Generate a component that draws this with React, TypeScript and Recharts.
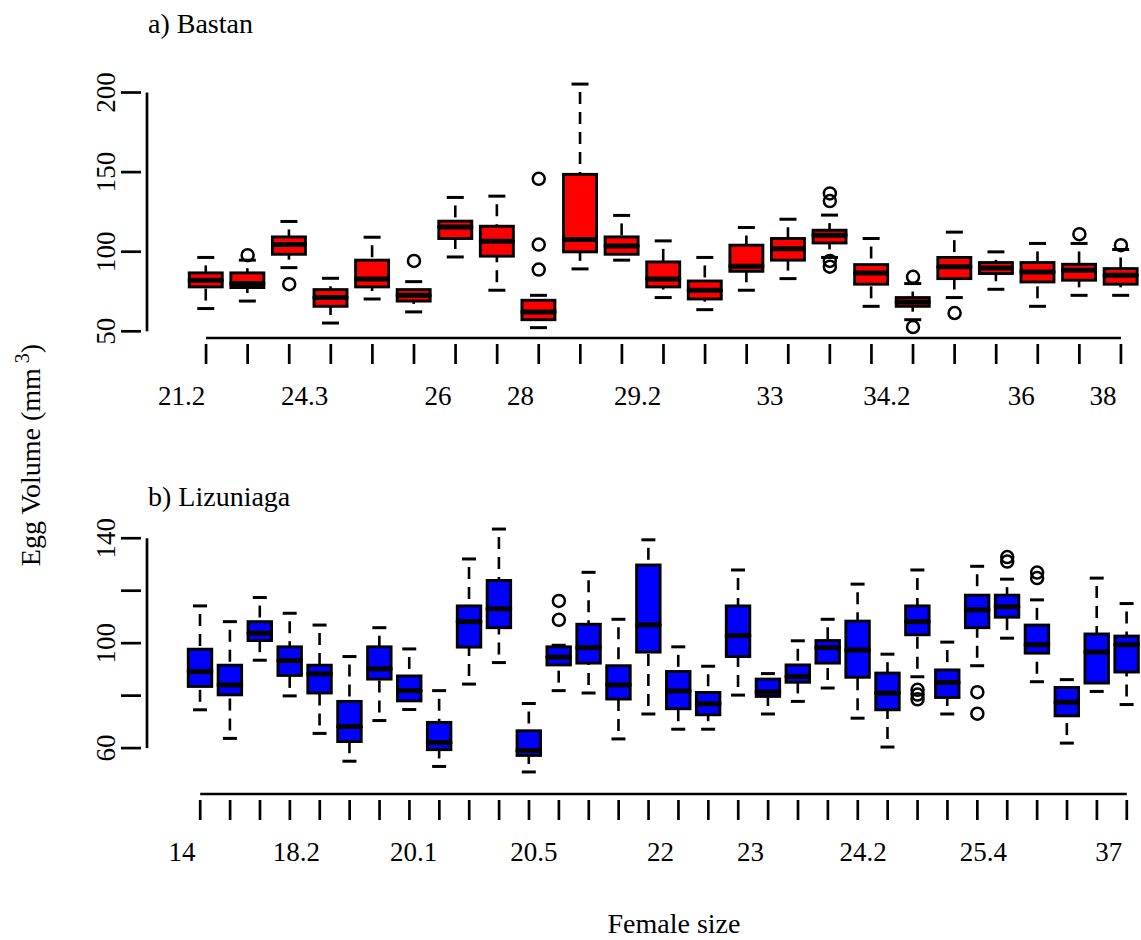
import { ComposedChart, Bar, Scatter, XAxis, YAxis, ReferenceLine } from 'recharts';

const FONT = '"Liberation Serif", "Times New Roman", serif';

// a) Bastan : five-number summaries per female (read off the figure)
const bastanLo = [64.3, 69, 90, 55.2, 70.3, 62.2, 96.7, 75.8, 52.3, 89.2, 94.7, 71.2, 63.6, 75.8, 83.1, 96.4, 65.7, 57.3, 71.2, 76.4, 65.7, 72.6, 72.6];
const bastanQ1 = [77.9, 77.5, 98.4, 65.7, 77.9, 69, 108.3, 97.2, 57.3, 99.9, 98.4, 77.9, 70.3, 87.7, 94.7, 105.5, 79.6, 65.7, 83.1, 86.3, 81, 82.1, 79.6];
const bastanMed = [82, 80, 104.5, 71.2, 82.9, 72.6, 115.6, 106.6, 62.2, 107.7, 103.6, 82.9, 75.8, 90.9, 101.8, 110.4, 86.7, 68.4, 90.5, 89.8, 87.3, 88.4, 85.2];
const bastanQ3 = [86.7, 86.7, 109.3, 76.2, 94.7, 76.2, 119.2, 116, 69.5, 148.6, 109.3, 93.6, 81.6, 104.1, 108.3, 113.5, 91.9, 71.2, 96.4, 93.2, 93.2, 92.1, 89.4];
const bastanHi = [96.4, 94.7, 119, 83.3, 109.1, 81.2, 134.1, 134.9, 72.6, 205.3, 122.8, 106.8, 96.4, 115.2, 120.4, 123, 108.3, 80, 112.3, 99.9, 105.2, 105.2, 101.4];
// outliers: [box number, value]
const bastanOut = [[2, 97.8], [3, 79.6], [6, 94.2], [9, 145.8], [9, 104.5], [9, 88.8], [16, 136.6], [16, 131.8], [16, 94.2], [16, 90.6], [18, 84.2], [18, 52.7], [19, 61.5], [22, 111], [23, 104.1]];
const bastanLabels = ['21.2', '24.3', '26', '28', '29.2', '33', '34.2', '36', '38'];
const bastanLabelAt = [0.41, 3.37, 6.58, 8.56, 11.38, 14.56, 17.37, 20.6, 22.57];
const bastanTicksY = [50, 100, 150, 200];
const bastanShownY = [50, 100, 150, 200];

// b) Lizuniaga
const lizLo = [74.6, 63.7, 93.5, 79.9, 65.6, 55, 70.5, 74.7, 53, 84.4, 92.6, 50.9, 81.9, 81, 63.5, 73, 67.2, 67.2, 80.2, 73, 77.8, 82.9, 71.4, 60.4, 87.2, 73, 91.4, 101.9, 85.3, 61.9, 81.6, 76.6];
const lizQ1 = [83.5, 80.3, 101, 87.7, 81, 62.5, 86.3, 78, 59.4, 98.5, 105.9, 57.2, 91.7, 92.4, 78.7, 96.6, 75, 72.7, 94.9, 79.7, 85.1, 92.4, 87, 74.6, 103.2, 79.3, 105.9, 109.9, 96.2, 72.3, 84.8, 89];
const lizMed = [89.2, 84.1, 103.8, 93.4, 88.3, 68.2, 90.2, 81.9, 62.1, 108.2, 113.1, 59.1, 94.7, 98.3, 84.1, 107, 81.8, 76.9, 102.9, 81.4, 87.3, 98.3, 97.4, 81, 108.2, 85, 112.7, 113.9, 99.4, 77.5, 96.6, 99.4];
const lizQ3 = [97.7, 91.6, 108.2, 98.6, 91.6, 77.8, 98.6, 87.5, 69.8, 114.2, 123.9, 66.6, 98.6, 107.2, 91.4, 129.8, 89.2, 81.2, 114.2, 86.3, 91.7, 101, 108.4, 88.6, 114.2, 89.8, 118.3, 118.3, 106.9, 83.1, 103.5, 102.7];
const lizHi = [114.2, 108.2, 117.4, 111.4, 106.9, 94.9, 105.9, 97.8, 81.9, 132.1, 143.5, 77, 99.2, 127, 109.1, 139.4, 98.6, 91.2, 127.9, 88.4, 100.9, 109.1, 122.5, 95.8, 127.9, 100.4, 129.3, 124.4, 116.5, 86.1, 124.8, 115.1];
const lizOut = [[13, 116.1], [13, 108.9], [25, 82.2], [25, 80.4], [25, 78.6], [27, 81.3], [27, 73.1], [28, 132.8], [28, 131.1], [29, 126.9], [29, 124.8]];
const lizLabels = ['14', '18.2', '20.1', '20.5', '22', '23', '24.2', '25.4', '37'];
const lizLabelAt = [0.39, 4.22, 8.14, 12.16, 16.4, 19.41, 23.18, 27.2, 31.4];
const lizTicksY = [60, 80, 100, 120, 140];
const lizShownY = [60, 100, 140];

function buildRows(lo: number[], q1: number[], med: number[], q3: number[], hi: number[]) {
  return lo.map((l, i) => ({
    pos: i + 1,
    base: l,
    lw: q1[i] - l,
    bl: med[i] - q1[i],
    bu: q3[i] - med[i],
    uw: hi[i] - q3[i],
  }));
}

interface PanelProps {
  rows: ReturnType<typeof buildRows>;
  outliers: number[][];
  fill: string;
  boxW: number;
  capW: number;
  xDomain: [number, number];
  yDomain: [number, number];
  yTicks: number[];
  yShown: number[];
  labels: string[];
  labelAt: number[];
  height: number;
  plotTop: number;
  axisH: number;
}

function BoxPanel(p: PanelProps) {
  const n = p.rows.length;
  const ticks = [...p.rows.map((r) => r.pos), ...p.labelAt].sort((a, b) => a - b);
  const labelOf = new Map(p.labelAt.map((v, i) => [v, p.labels[i]]));
  const yMin = p.yDomain[0];

  const xTick = (t: any) => {
    const v = t.payload.value;
    if (Number.isInteger(v)) {
      return <line x1={t.x} x2={t.x} y1={t.y} y2={t.y + 20} stroke="#000" strokeWidth={2.7} />;
    }
    return (
      <text x={t.x} y={t.y + 61} textAnchor="middle" fontFamily={FONT} fontSize={27} fill="#000">
        {labelOf.get(v)}
      </text>
    );
  };

  const yTick = (t: any) => {
    const v = t.payload.value;
    return (
      <g>
        <line x1={t.x - 20} x2={t.x} y1={t.y} y2={t.y} stroke="#000" strokeWidth={2.7} />
        {p.yShown.includes(v) && (
          <text x={t.x - 26} y={t.y} transform={`rotate(-90, ${t.x - 26}, ${t.y})`} textAnchor="middle" fontFamily={FONT} fontSize={27} fill="#000">
            {v}
          </text>
        )}
      </g>
    );
  };

  const lowerWhisker = (s: any) => {
    const cx = s.x + s.width / 2;
    const yb = s.y + s.height;
    return (
      <g>
        <line x1={cx} x2={cx} y1={yb} y2={s.y} stroke="#000" strokeWidth={2.6} strokeDasharray="12 8" strokeDashoffset={12} />
        <line x1={cx - p.capW / 2} x2={cx + p.capW / 2} y1={yb} y2={yb} stroke="#000" strokeWidth={3} />
      </g>
    );
  };

  const upperWhisker = (s: any) => {
    const cx = s.x + s.width / 2;
    return (
      <g>
        <line x1={cx} x2={cx} y1={s.y} y2={s.y + s.height} stroke="#000" strokeWidth={2.6} strokeDasharray="12 8" strokeDashoffset={12} />
        <line x1={cx - p.capW / 2} x2={cx + p.capW / 2} y1={s.y} y2={s.y} stroke="#000" strokeWidth={3} />
      </g>
    );
  };

  const lowerBox = (s: any) => (
    <rect x={s.x} y={s.y} width={s.width} height={s.height} fill={p.fill} stroke="#000" strokeWidth={2.9} />
  );

  const upperBox = (s: any) => (
    <g>
      <rect x={s.x} y={s.y} width={s.width} height={s.height} fill={p.fill} stroke="#000" strokeWidth={2.9} />
      <line x1={s.x} x2={s.x + s.width} y1={s.y + s.height} y2={s.y + s.height} stroke="#000" strokeWidth={5} />
    </g>
  );

  const outData = p.outliers.map(([pos, v]) => ({ pos, v }));

  return (
    <ComposedChart width={1180} height={p.height} data={p.rows} margin={{ top: p.plotTop, right: 0, bottom: 0, left: 0 }}>
      <XAxis
        type="number"
        dataKey="pos"
        domain={p.xDomain}
        allowDataOverflow
        ticks={ticks}
        interval={0}
        tick={xTick}
        tickLine={false}
        tickMargin={0}
        axisLine={false}
        height={p.axisH}
      />
      <YAxis
        type="number"
        domain={p.yDomain}
        allowDataOverflow
        ticks={p.yTicks}
        interval={0}
        tick={yTick}
        tickLine={false}
        tickMargin={0}
        axisLine={false}
        width={147}
      />
      <Bar dataKey="base" stackId="s" barSize={p.boxW} shape={() => <g />} isAnimationActive={false} />
      <Bar dataKey="lw" stackId="s" barSize={p.boxW} shape={lowerWhisker} isAnimationActive={false} />
      <Bar dataKey="bl" stackId="s" barSize={p.boxW} shape={lowerBox} isAnimationActive={false} />
      <Bar dataKey="bu" stackId="s" barSize={p.boxW} shape={upperBox} isAnimationActive={false} />
      <Bar dataKey="uw" stackId="s" barSize={p.boxW} shape={upperWhisker} isAnimationActive={false} />
      <Scatter
        data={outData}
        dataKey="v"
        isAnimationActive={false}
        shape={(s: any) => <circle cx={s.cx} cy={s.cy} r={6} fill="none" stroke="#000" strokeWidth={2.5} />}
      />
      <ReferenceLine segment={[{ x: 1, y: yMin }, { x: n, y: yMin }]} stroke="#000" strokeWidth={2.7} ifOverflow="visible" />
      <ReferenceLine
        segment={[{ x: p.xDomain[0], y: p.yTicks[0] }, { x: p.xDomain[0], y: p.yTicks[p.yTicks.length - 1] }]}
        stroke="#000"
        strokeWidth={2.7}
        ifOverflow="visible"
      />
    </ComposedChart>
  );
}

export default function App() {
  const bastanRows = buildRows(bastanLo, bastanQ1, bastanMed, bastanQ3, bastanHi);
  const lizRows = buildRows(lizLo, lizQ1, lizMed, lizQ3, lizHi);

  return (
    <div style={{ position: 'relative', width: 1141, height: 940, overflow: 'hidden', background: '#fff' }}>
      <style>{'body{margin:0}'}</style>
      <div style={{ position: 'absolute', left: 0, top: 0 }}>
        <BoxPanel
          rows={bastanRows}
          outliers={bastanOut}
          fill="#ff0000"
          boxW={33}
          capW={17}
          xDomain={[-0.42, 24.42]}
          yDomain={[45.8, 211]}
          yTicks={bastanTicksY}
          yShown={bastanShownY}
          labels={bastanLabels}
          labelAt={bastanLabelAt}
          height={420}
          plotTop={75}
          axisH={82}
        />
      </div>
      <div style={{ position: 'absolute', left: 0, top: 430 }}>
        <BoxPanel
          rows={lizRows}
          outliers={lizOut}
          fill="#0000ff"
          boxW={23.5}
          capW={14}
          xDomain={[-0.78, 33.78]}
          yDomain={[42.5, 150]}
          yTicks={lizTicksY}
          yShown={lizShownY}
          labels={lizLabels}
          labelAt={lizLabelAt}
          height={440}
          plotTop={82}
          axisH={76}
        />
      </div>
      <svg width={1141} height={940} style={{ position: 'absolute', left: 0, top: 0, pointerEvents: 'none' }}>
        <g fontFamily={FONT} fontSize={28} fill="#000">
          <text x={148} y={33}>a) Bastan</text>
          <text x={148} y={506}>b) Lizuniaga</text>
          <text x={674} y={933} textAnchor="middle">Female size</text>
          <text x={40} y={455} transform="rotate(-90, 40, 455)" textAnchor="middle">
            Egg Volume (mm
            <tspan fontSize={20} dy={-11}> 3</tspan>
            <tspan dy={11}>)</tspan>
          </text>
        </g>
      </svg>
    </div>
  );
}
